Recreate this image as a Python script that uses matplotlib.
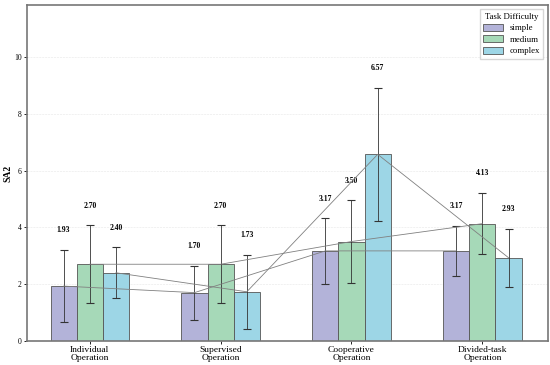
import numpy as np
import matplotlib
matplotlib.use("Agg")
from matplotlib import pyplot as plt

plt.rcParams['font.family'] = ['Liberation Serif', 'DejaVu Serif']

categories = ["Individual\nOperation", "Supervised\nOperation", "Cooperative\nOperation", "Divided-task\nOperation"]
niveles = ["simple", "medium", "complex"]

simple = [1.93, 1.70, 3.17, 3.17]
medium = [2.70, 2.70, 3.50, 4.13]
complex_ = [2.40, 1.73, 6.57, 2.93]

err_simple = [1.28, 0.95, 1.15, 0.88]
err_medium = [1.37, 1.37, 1.45, 1.08]
err_complex = [0.90, 1.31, 2.35, 1.02]

valores = [simple, medium, complex_]
errores = [err_simple, err_medium, err_complex]
colores = ["#b3b3d9", "#a6d9b8", "#9dd6e6"]

fig = plt.figure(figsize=(5.5, 3.65), dpi=100)
ax = fig.add_axes([0.049, 0.066, 0.947, 0.92])

x = np.arange(len(categories))
ancho = 0.2

for i in range(3):
    pos = x + (i - 1) * ancho
    ax.bar(pos, valores[i], ancho, color=colores[i], edgecolor="#555555",
           linewidth=0.6, label=niveles[i], zorder=2)
    ax.errorbar(pos, valores[i], yerr=errores[i], fmt="none", ecolor="#333333",
                elinewidth=0.6, capsize=3, capthick=0.8, zorder=3)
    ax.plot(pos, valores[i], color="#808080", linewidth=0.6, zorder=4)
    for p, v, e in zip(pos, valores[i], errores[i]):
        ax.text(p, v + e + 0.55, f"{v:.2f}", ha="center", va="bottom",
                fontsize=5.5, fontweight="bold")

ax.set_xticks(x)
ax.set_xticklabels(categories, fontsize=6.8, linespacing=0.95)
ax.set_xlim(-0.48, 3.5)
ax.set_ylim(0, max(complex_) * 1.8)
ax.set_yticks([0, 2, 4, 6, 8, 10])
ax.tick_params(axis="y", labelsize=5.5, length=2.5, width=0.6, pad=1.5)
ax.tick_params(axis="x", length=2.5, width=0.6, pad=1.5)
ax.set_ylabel("SA2", fontsize=7, fontweight="bold", labelpad=1)
ax.grid(axis="y", linestyle="--", linewidth=0.4, color="#e6e6e6", zorder=0)
ax.set_axisbelow(True)
for s in ax.spines.values():
    s.set_color("#777777")
    s.set_linewidth(1.2)

ax.legend(title="Task Difficulty", loc="upper right", fontsize=6.3, title_fontsize=6.3,
          frameon=True, handlelength=2.2, handleheight=0.8, borderpad=0.4,
          labelspacing=0.35, edgecolor="#cccccc", fancybox=False)

plt.savefig("out.png", dpi=100)
